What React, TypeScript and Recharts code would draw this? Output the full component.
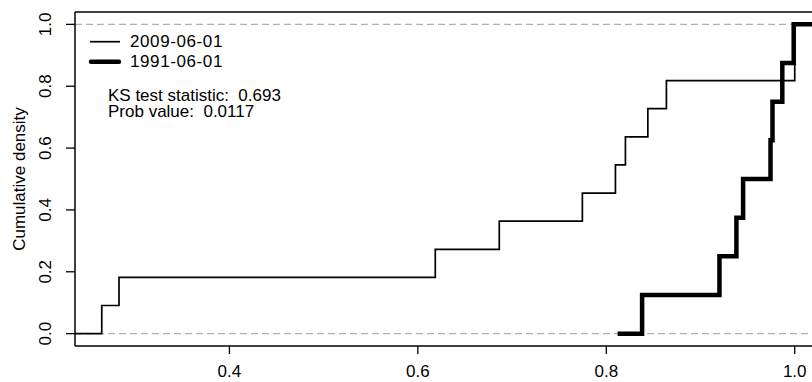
import { LineChart, Line, XAxis, YAxis, ReferenceLine } from "recharts";

// ECDF jump points
const thinX = [0.2645, 0.2828, 0.6185, 0.6864, 0.7746, 0.8097, 0.8203, 0.8441, 0.8638, 1.0];
const thinY = [0.0909, 0.1818, 0.2727, 0.3636, 0.4545, 0.5455, 0.6364, 0.7273, 0.8182, 1.0];
const thinStart = 0.2361;

const thickX = [0.838, 0.9201, 0.9381, 0.9452, 0.9743, 0.9764, 0.9868, 0.9989];
const thickY = [0.125, 0.25, 0.375, 0.5, 0.625, 0.75, 0.875, 1.0];
const thickStart = 0.812;

const xTicks = [0.4, 0.6, 0.8, 1.0];
const yTicks = [0, 0.2, 0.4, 0.6, 0.8, 1.0];
const seriesNames = ["2009-06-01", "1991-06-01"];
const ksLines = ["KS test statistic:  0.693", "Prob value:  0.0117"];

const X_MIN = 0.2361;
const X_MAX = 1.03;
const Y_MIN = -0.04;
const Y_MAX = 1.04;

const FONT = "'Liberation Sans', Arial, Helvetica, sans-serif";

function steps(start: number, xs: number[], ys: number[]) {
  const pts = [{ x: start, y: 0 }];
  xs.forEach((x, i) => pts.push({ x, y: ys[i] }));
  pts.push({ x: X_MAX, y: ys[ys.length - 1] });
  return pts;
}

const thinData = steps(thinStart, thinX, thinY);
const thickData = steps(thickStart, thickX, thickY);

const XTick = (p: any) => (
  <text x={p.x} y={p.y + 21} textAnchor="middle" fontSize={17} fontFamily={FONT} fill="#000">
    {Number(p.payload.value).toFixed(1)}
  </text>
);

const YTick = (p: any) => {
  const x = p.x - 13;
  return (
    <text
      x={x}
      y={p.y}
      transform={`rotate(-90 ${x} ${p.y})`}
      textAnchor="middle"
      fontSize={17}
      fontFamily={FONT}
      fill="#000"
    >
      {Number(p.payload.value).toFixed(1)}
    </text>
  );
};

export default function App() {
  return (
    <div
      style={{
        position: "absolute",
        left: 0,
        top: 0,
        width: 812,
        height: 382,
        overflow: "hidden",
        background: "#fff",
      }}
    >
      <LineChart width={823} height={382} margin={{ top: 12, right: 0, bottom: 0, left: 0 }}>
        <XAxis
          dataKey="x"
          type="number"
          domain={[X_MIN, X_MAX]}
          ticks={xTicks}
          allowDataOverflow
          height={36}
          axisLine={{ stroke: "#000", strokeWidth: 1.5 }}
          tickLine={{ stroke: "#000", strokeWidth: 1.3 }}
          tickSize={8}
          tickMargin={2}
          tick={<XTick />}
        />
        <YAxis
          type="number"
          domain={[Y_MIN, Y_MAX]}
          ticks={yTicks}
          allowDataOverflow
          width={75}
          axisLine={{ stroke: "#000", strokeWidth: 1.5 }}
          tickLine={{ stroke: "#000", strokeWidth: 1.3 }}
          tickSize={9}
          tickMargin={2}
          tick={<YTick />}
        />
        <ReferenceLine y={Y_MAX} stroke="#000" strokeWidth={1.5} ifOverflow="visible" />
        <ReferenceLine y={0} stroke="#b0b0b0" strokeWidth={1.4} strokeDasharray="7 4" />
        <ReferenceLine y={1} stroke="#b0b0b0" strokeWidth={1.4} strokeDasharray="7 4" />
        <Line
          data={thinData}
          dataKey="y"
          type="stepAfter"
          stroke="#000"
          strokeWidth={1.7}
          dot={false}
          isAnimationActive={false}
        />
        <Line
          data={thickData}
          dataKey="y"
          type="stepAfter"
          stroke="#000"
          strokeWidth={4.5}
          dot={false}
          isAnimationActive={false}
        />
      </LineChart>
      <svg
        width={812}
        height={382}
        style={{ position: "absolute", left: 0, top: 0, pointerEvents: "none" }}
        fontFamily={FONT}
        fontSize={17}
      >
        <text
          x={25}
          y={179}
          transform="rotate(-90 25 179)"
          textAnchor="middle"
          fill="#000"
        >
          Cumulative density
        </text>
        <line x1={90} x2={120} y1={41.7} y2={41.7} stroke="#000" strokeWidth={1.7} />
        <line x1={91} x2={119} y1={61.7} y2={61.7} stroke="#000" strokeWidth={4.5} strokeLinecap="round" />
        <text x={130} y={46.7} fill="#000" letterSpacing={0.6}>{seriesNames[0]}</text>
        <text x={130} y={66.7} fill="#000" letterSpacing={0.6}>{seriesNames[1]}</text>
        <text x={108} y={100.7} fill="#000" style={{ whiteSpace: "pre" }}>{ksLines[0]}</text>
        <text x={108} y={117.3} fill="#000" style={{ whiteSpace: "pre" }}>{ksLines[1]}</text>
      </svg>
    </div>
  );
}
